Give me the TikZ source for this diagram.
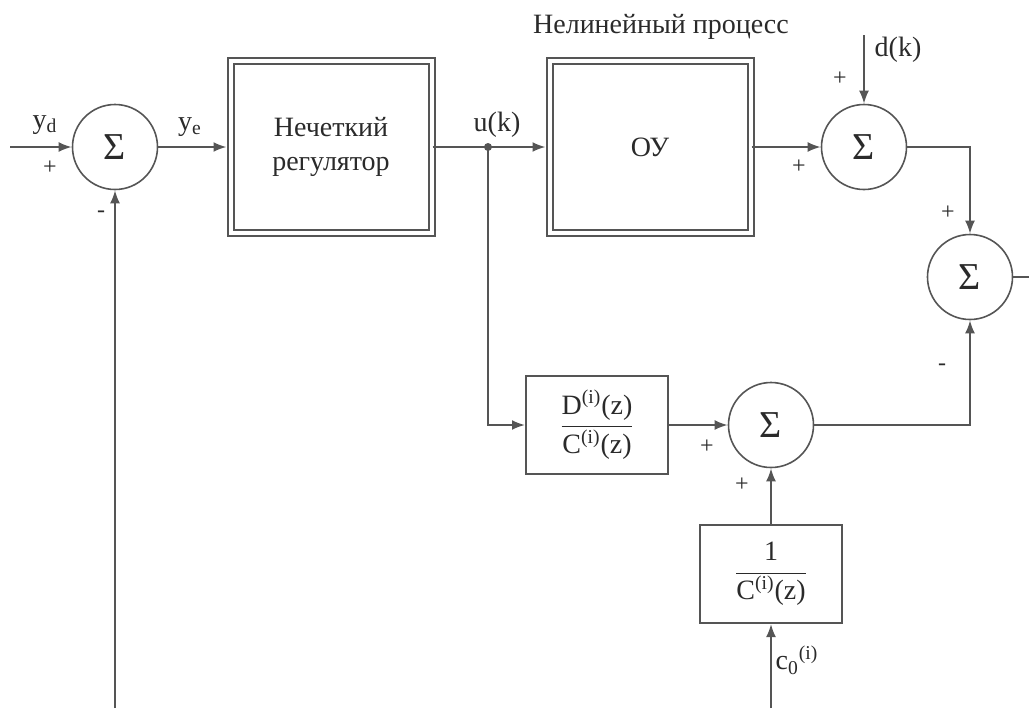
\documentclass[tikz,border=0pt]{standalone}
\usepackage{fontspec}
\setmainfont{Liberation Serif}
\usetikzlibrary{arrows.meta}
\definecolor{wire}{HTML}{555555}
\definecolor{ink}{HTML}{2A2A2A}

\begin{document}
\begin{tikzpicture}[x=0.5pt,y=-0.5pt,
  >={Latex[length=6.5pt,width=5pt]},
  conn/.style={draw=wire,line width=1pt},
  sumnode/.style={circle,draw=wire,line width=0.8pt,minimum size=42.5pt,inner sep=0pt,text=ink,font=\fontsize{19}{20}\selectfont},
  plant/.style={draw=wire,double,double distance=2pt,line width=1pt,minimum width=100.5pt,minimum height=86pt,align=center,text=ink,font=\fontsize{14}{17}\selectfont},
  tf/.style={draw=wire,line width=1pt,minimum width=71pt,minimum height=49pt,text=ink,font=\fontsize{14}{16}\selectfont},
  lbl/.style={font=\fontsize{14}{16}\selectfont,text=ink},
  sgn/.style={font=\fontsize{12}{14}\selectfont,text=ink}
]
  \useasboundingbox (0,0) rectangle (1029,708);
  \node[sumnode] (s1) at (115,147) {Σ};
  \node[plant]   (fuzzy) at (331,147) {Нечеткий\\регулятор};
  \node[plant]   (ou) at (650,147) {ОУ};
  \node[sumnode] (s2) at (864,147) {Σ};
  \node[sumnode] (s3) at (970,277) {Σ};
  \node[tf]      (dc) at (597,425) {$\displaystyle\frac{\hbox{D\textsuperscript{(i)}(z)}}{\hbox{C\textsuperscript{(i)}(z)}}$};
  \node[sumnode] (s4) at (771,425) {Σ};
  \node[tf]      (ic) at (771,574) {$\displaystyle\frac{\hbox{1}}{\hbox{C\textsuperscript{(i)}(z)}}$};
  \coordinate (in) at (10,147);
  \coordinate (uk) at (488,147);
  \coordinate (dk) at (864,35);
  \coordinate (c0) at (771,708);
  \coordinate (fb) at (115,708);
  \coordinate (out) at (1029,277);
  \draw[conn,->] (in) -- (s1);
  \draw[conn,->,shorten >=1.5pt] (s1) -- (fuzzy);
  \draw[conn] (fuzzy) -- (uk);
  \draw[conn,->,shorten >=1.5pt] (uk) -- (ou);
  \fill[wire] (uk) circle (2pt);
  \draw[conn,->] (ou) -- (s2);
  \draw[conn,->] (dk) -- (s2);
  \draw[conn,->] (s2) -| (s3);
  \draw[conn,->] (uk) |- (dc);
  \draw[conn,->] (dc) -- (s4);
  \draw[conn,->] (ic) -- (s4);
  \draw[conn,->] (c0) -- (ic);
  \draw[conn,->] (s4) -| (s3);
  \draw[conn] (s3) -- (out);
  \draw[conn,->] (fb) -- (s1);
  \node[lbl] (yd) at (45,125) {y\textsubscript{d}};
  \node[sgn] (p1) at (50,168) {+};
  \node[sgn] (m1) at (101,214) {-};
  \node[lbl] (ye) at (190,127) {y\textsubscript{e}};
  \node[lbl] (ukl) at (497,125) {u(k)};
  \node[lbl] (title) at (661,27) {Нелинейный процесс};
  \node[lbl] (dkl) at (898,50) {d(k)};
  \node[sgn] (p2) at (840,79) {+};
  \node[sgn] (p3) at (799,167) {+};
  \node[sgn] (p4) at (948,213) {+};
  \node[sgn] (m4) at (942,367) {-};
  \node[sgn] (p5) at (707,447) {+};
  \node[sgn] (p6) at (742,485) {+};
  \node[lbl] (c0l) at (797,660) {c\textsubscript{0}\textsuperscript{(i)}};
\end{tikzpicture}
\end{document}
